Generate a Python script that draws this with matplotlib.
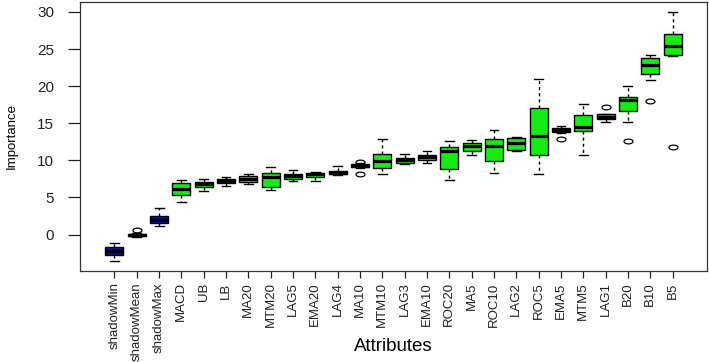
import matplotlib
matplotlib.use("Agg")
import matplotlib.pyplot as plt
from matplotlib.path import Path
from matplotlib.transforms import Affine2D

plt.rcParams["font.family"] = ["Liberation Sans", "DejaVu Sans"]

# ── data ─────────────────────────────────────────────────────────────────────
attributes = ["shadowMin", "shadowMean", "shadowMax", "MACD", "UB", "LB", "MA20",
              "MTM20", "LAG5", "EMA20", "LAG4", "MA10", "MTM10", "LAG3", "EMA10",
              "ROC20", "MA5", "ROC10", "LAG2", "ROC5", "EMA5", "MTM5", "LAG1",
              "B20", "B10", "B5"]
whis_lo = [-3.5, -0.35, 1.2, 4.45, 5.9, 6.6, 6.75, 6.0, 7.2, 7.2, 8.05, 9.0, 8.1,
           9.5, 9.6, 7.4, 10.7, 8.3, 11.25, 8.2, 13.65, 10.7, 15.15, 15.15, 20.8, 24.1]
q1 = [-2.75, -0.25, 1.55, 5.4, 6.45, 6.9, 7.15, 6.45, 7.45, 7.75, 8.1, 9.1, 9.0,
      9.7, 10.1, 8.8, 11.2, 9.95, 11.45, 10.7, 13.8, 13.9, 15.6, 16.65, 21.6, 24.15]
median = [-2.25, -0.05, 2.0, 6.2, 6.8, 7.2, 7.45, 7.75, 7.85, 8.1, 8.3, 9.3, 9.85,
          10.0, 10.45, 11.25, 12.0, 12.0, 12.3, 13.35, 14.05, 14.5, 15.9, 18.1, 22.8, 25.35]
q3 = [-1.7, 0.1, 2.5, 6.95, 7.1, 7.45, 7.85, 8.35, 8.2, 8.35, 8.55, 9.45, 10.8,
      10.3, 10.7, 11.8, 12.4, 12.85, 13.0, 17.1, 14.3, 16.15, 16.25, 18.5, 23.85, 27.0]
whis_hi = [-1.15, 0.25, 3.6, 7.4, 7.45, 7.7, 8.2, 9.05, 8.65, 8.45, 9.2, 9.6, 12.85,
           10.9, 11.25, 12.65, 12.8, 14.05, 13.1, 20.9, 14.6, 17.65, 16.3, 20.05, 24.25, 30.0]
outliers = [[], [0.65], [], [], [], [], [], [], [], [], [], [9.8, 8.2], [], [], [],
            [], [], [], [], [], [12.85], [], [17.15], [12.6], [18.05], [11.75]]
box_colors = ["#0c0ca6"] * 3 + ["#14ec14"] * 23

# ── figure ───────────────────────────────────────────────────────────────────
fig = plt.figure(figsize=(7.09, 3.62), dpi=100)
fig.patch.set_facecolor("white")
ax = fig.add_axes([80 / 709, 91.5 / 362, 627 / 709, 268.5 / 362])

stats = [dict(label=n, whislo=lo, q1=a, med=m, q3=b, whishi=hi, fliers=f)
         for n, lo, a, m, b, hi, f in zip(attributes, whis_lo, q1, median, q3,
                                          whis_hi, outliers)]
positions = list(range(1, len(attributes) + 1))

# R-style squashed open circle for outliers
ellipse = Path.unit_circle().transformed(Affine2D().scale(1.9, 1.0))

bp = ax.bxp(stats, positions=positions, widths=0.8, capwidths=0.4,
            patch_artist=True, manage_ticks=False,
            boxprops=dict(edgecolor="black", linewidth=1.0),
            medianprops=dict(color="black", linewidth=2.3, solid_capstyle="butt"),
            whiskerprops=dict(color="black", linewidth=1.0, linestyle=(0, (2.2, 2.2))),
            capprops=dict(color="black", linewidth=1.0),
            flierprops=dict(marker=ellipse, markersize=6.5, markerfacecolor="none",
                            markeredgecolor="black", markeredgewidth=0.9))
for patch, c in zip(bp["boxes"], box_colors):
    patch.set_facecolor(c)

# R boxplot limits: 4% padding around the data range
lo = min(whis_lo + [v for f in outliers for v in f])
hi = max(whis_hi + [v for f in outliers for v in f])
pad = 0.04 * (hi - lo)
ax.set_ylim(lo - pad, hi + pad)
n = len(attributes)
ax.set_xlim(0.5 - 0.04 * n, n + 0.5 + 0.04 * n)

ax.set_xticks(positions)
ax.set_xticklabels(attributes, rotation=90, fontsize=9.5)
ax.set_yticks([0, 5, 10, 15, 20, 25, 30])
ax.tick_params(axis="y", length=8.5, width=0.9, pad=10, labelsize=11, colors="#222222")
ax.tick_params(axis="x", length=5, width=0.9, pad=3.5, colors="#222222")
for s in ax.spines.values():
    s.set_color("#333333")
    s.set_linewidth(0.9)

ax.set_xlabel("Attributes", fontsize=13.5)
ax.xaxis.set_label_coords(0.5, -0.252)
ax.set_ylabel("Importance", fontsize=9.5)
ax.yaxis.set_label_coords(-0.1, 0.5)

plt.savefig("out.png", dpi=100, facecolor="white")
plt.close()
